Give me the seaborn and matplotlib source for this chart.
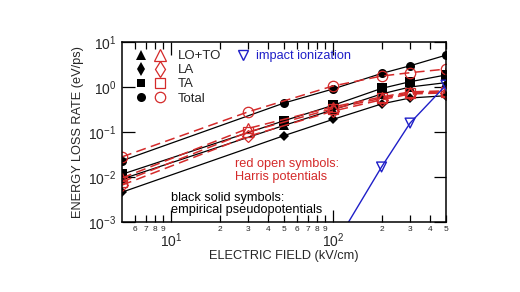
import matplotlib
matplotlib.use("Agg")
import matplotlib.pyplot as plt
import matplotlib.ticker as mticker
from matplotlib.lines import Line2D
from matplotlib.legend_handler import HandlerTuple
import seaborn as sns
import pandas as pd

sns.set_theme(style="ticks")
plt.rcParams['font.family'] = ['Liberation Sans', 'DejaVu Sans']
plt.rcParams['mathtext.fontset'] = 'custom'
plt.rcParams['mathtext.rm'] = 'Liberation Sans'

# empirical pseudopotentials (black solid)
field_black = [5, 50, 100, 200, 300, 500]
total_black = [0.023, 0.44, 0.9, 2.0, 2.96, 5.1]
ta_black = [0.0115, 0.178, 0.39, 0.93, 1.31, 1.85]
loto_black = [0.009, 0.14, 0.31, 0.7, 1.0, 1.25]
la_black = [0.0046, 0.083, 0.19, 0.42, 0.57, 0.64]

# Harris potentials (red open)
field_red = [5, 30, 100, 200, 300, 500]
total_red = [0.028, 0.28, 1.05, 1.75, 2.08, 2.5]
loto_red = [0.0095, 0.12, 0.36, 0.6, 0.78, 0.82]
ta_red = [0.0078, 0.10, 0.33, 0.56, 0.74, 0.78]
la_red = [0.0066, 0.08, 0.29, 0.52, 0.7, 0.74]

# impact ionization
field_ii_line = [100, 200, 300, 500]
rate_ii_line = [2.6e-4, 0.0167, 0.158, 1.1]
field_ii = [200, 300, 500]
rate_ii = [0.0167, 0.158, 1.1]

RED = '#d42a2a'
BLUE = '#1f1fc8'

fig = plt.figure(figsize=(5.2, 2.92), dpi=100)
ax = fig.add_axes([0.2346, 0.2397, 0.8577 - 0.2346, 0.8562 - 0.2397])

black_series = [(total_black, 'o'), (ta_black, 's'), (loto_black, '^'), (la_black, 'D')]
red_series = [(total_red, 'o'), (ta_red, 's'), (loto_red, '^'), (la_red, 'D')]

for vals, mk in black_series:
    df = pd.DataFrame({'field': field_black, 'rate': vals})
    sns.lineplot(data=df, x='field', y='rate', ax=ax, color='black', lw=0.9,
                 marker=mk, markersize=6.5 if mk != 'D' else 5.5, markeredgewidth=0)

for vals, mk in red_series:
    df = pd.DataFrame({'field': field_red, 'rate': vals})
    sns.lineplot(data=df, x='field', y='rate', ax=ax, color=RED, lw=1.1,
                 linestyle=(0, (6.5, 3.5)), marker=mk, markersize=7.5 if mk != 'D' else 6.5,
                 markerfacecolor='none', markeredgecolor=RED, markeredgewidth=0.9)

df_ii = pd.DataFrame({'field': field_ii_line, 'rate': rate_ii_line})
sns.lineplot(data=df_ii, x='field', y='rate', ax=ax, color=BLUE, lw=1)
df_iim = pd.DataFrame({'field': field_ii, 'rate': rate_ii})
sns.scatterplot(data=df_iim, x='field', y='rate', ax=ax, marker='v', s=50,
                facecolor='none', edgecolor=BLUE, linewidth=1, zorder=5)

ax.set_xscale('log')
ax.set_yscale('log')
ax.set_xlim(5, 500)
ax.set_ylim(1e-3, 10)

ax.xaxis.set_major_locator(mticker.FixedLocator([10, 100]))
ax.xaxis.set_major_formatter(mticker.FixedFormatter([r'$10^{1}$', r'$10^{2}$']))
minor_pos = [6, 7, 8, 9, 20, 30, 40, 50, 60, 70, 80, 90, 200, 300, 400, 500]
minor_lab = ['6', '7', '8', '9', '2', '3', '4', '5', '6', '7', '8', '9', '2', '3', '4', '5']
ax.xaxis.set_minor_locator(mticker.FixedLocator(minor_pos))
ax.xaxis.set_minor_formatter(mticker.FixedFormatter(minor_lab))
ax.yaxis.set_major_locator(mticker.FixedLocator([1e-3, 1e-2, 1e-1, 1, 10]))
ax.yaxis.set_major_formatter(mticker.FixedFormatter(
    [r'$10^{-3}$', r'$10^{-2}$', r'$10^{-1}$', r'$10^{0}$', r'$10^{1}$']))
ax.yaxis.set_minor_locator(mticker.NullLocator())

ax.tick_params(which='both', direction='in', top=True, right=True, color='black', width=0.9)
ax.tick_params(axis='y', which='major', length=9, labelsize=10, pad=4)
ax.tick_params(axis='x', which='major', length=9, labelsize=10, pad=6.5)
ax.tick_params(axis='x', which='minor', length=5, labelsize=6, pad=3)
for s in ax.spines.values():
    s.set_linewidth(1.1)
    s.set_color('black')

ax.set_xlabel('ELECTRIC FIELD (kV/cm)', fontsize=9.2, labelpad=0)
ax.set_ylabel('ENERGY LOSS RATE (eV/ps)', fontsize=9.2, labelpad=3)

# legend: black solid + red open markers per phonon branch
def mk_pair(m, ms):
    return (Line2D([], [], ls='none', marker=m, color='black', markersize=ms, markeredgewidth=0),
            Line2D([], [], ls='none', marker=m, markerfacecolor='none', markeredgecolor=RED,
                   markersize=ms + 1, markeredgewidth=0.9))

handles = [mk_pair('^', 7), mk_pair('d', 7), mk_pair('s', 6), mk_pair('o', 6.5)]
labels = ['LO+TO', 'LA', 'TA', 'Total']
leg = ax.legend(handles, labels, handler_map={tuple: HandlerTuple(ndivide=None, pad=0.0)},
                loc='upper left', bbox_to_anchor=(0.0, 1.008), frameon=False, fontsize=9.5,
                handlelength=2.88, handletextpad=0.64, labelspacing=0.14,
                borderaxespad=0.32, borderpad=0.4)
ax.add_artist(leg)

ii_handle = Line2D([], [], ls='none', marker='v', markerfacecolor='none',
                   markeredgecolor=BLUE, markersize=7, markeredgewidth=1)
leg2 = ax.legend([ii_handle], ['impact ionization'], loc='upper left',
                 bbox_to_anchor=(0.324, 1.006), frameon=False, fontsize=9.2,
                 handlelength=1.0, handletextpad=0.55, borderaxespad=0.32, borderpad=0.4)
for t in leg2.get_texts():
    t.set_color(BLUE)

ax.text(0.348, 0.285, 'red open symbols:\nHarris potentials', transform=ax.transAxes,
        color=RED, fontsize=9.2, va='center', ha='left', linespacing=1.1)
ax.text(0.151, 0.10, 'black solid symbols:\nempirical pseudopotentials', transform=ax.transAxes,
        color='black', fontsize=9.2, va='center', ha='left', linespacing=1.1)

fig.savefig('out.png', dpi=100)
